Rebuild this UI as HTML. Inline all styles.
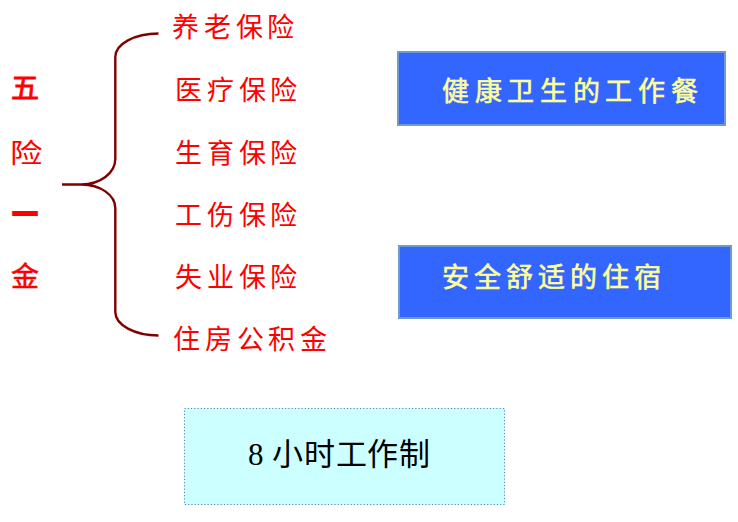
<!DOCTYPE html>
<html lang="zh-CN">
<head>
<meta charset="utf-8">
<style>
html,body{margin:0;padding:0;}
body{width:738px;height:522px;position:relative;overflow:hidden;background:#ffffff;font-family:"Liberation Serif",serif;}
.t{position:absolute;white-space:nowrap;line-height:1;}
.red{color:#ff0000;font-size:27px;letter-spacing:4.8px;}
.left{color:#ff0000;font-size:28px;font-weight:700;}
.box{position:absolute;box-sizing:border-box;}
.blue{background:#3366ff;border:2px solid #6f9acb;}
.ylw{color:#ffff99;font-size:27px;font-weight:400;-webkit-text-stroke:0.6px #ffff99;}
.blk{color:#000;font-size:31px;letter-spacing:0.6px;}
svg{position:absolute;left:0;top:0;}
</style>
</head>
<body>
<svg width="738" height="522" viewBox="0 0 738 522">
<path d="M158.5,33.5 A43.2,23.5 0 0 0 115.3,57 L115.3,159 A34,25.5 0 0 1 81.3,184.5 L62,184.5 L81.3,184.5 A34,23.5 0 0 1 115.3,208 L115.3,312 A43.2,23.5 0 0 0 158.5,335.5" fill="none" stroke="#800000" stroke-width="2.4"/>
</svg>

<div class="t left" style="left:11px;top:75px;font-weight:400;-webkit-text-stroke:0.9px #ff0000;">五</div>
<div class="t left" style="left:10px;top:141px;font-weight:400;font-size:27px;transform:scaleX(1.2);transform-origin:0 0;">险</div>
<div class="t left" style="left:11px;top:205px;font-weight:400;transform:scaleY(2.2);transform-origin:50% 52%;">一</div>
<div class="t left" style="left:11px;top:264px;font-weight:400;-webkit-text-stroke:0.5px #ff0000;">金</div>

<div class="t red" style="left:172px;top:15px;">养老保险</div>
<div class="t red" style="left:175px;top:78px;">医疗保险</div>
<div class="t red" style="left:175px;top:141px;">生育保险</div>
<div class="t red" style="left:175px;top:203px;">工伤保险</div>
<div class="t red" style="left:175px;top:265px;">失业保险</div>
<div class="t red" style="left:173px;top:327px;">住房公积金</div>

<div class="box blue" style="left:397px;top:51px;width:329px;height:75px;"></div>
<div class="t ylw" style="left:442px;top:79px;letter-spacing:5.7px;">健康卫生的工作餐</div>

<div class="box blue" style="left:398px;top:245px;width:334px;height:74px;"></div>
<div class="t ylw" style="left:442px;top:265px;letter-spacing:5.0px;">安全舒适的住宿</div>

<div class="box" style="left:184px;top:408px;width:321px;height:97px;background:#ccffff;"></div>
<svg width="738" height="522" viewBox="0 0 738 522"><rect x="184.5" y="408.5" width="320" height="96" fill="none" stroke="#6276bb" stroke-width="1" stroke-dasharray="1.1 2.15"/></svg>
<div class="t blk" style="left:248px;top:439px;">8 小时工作制</div>
</body>
</html>
